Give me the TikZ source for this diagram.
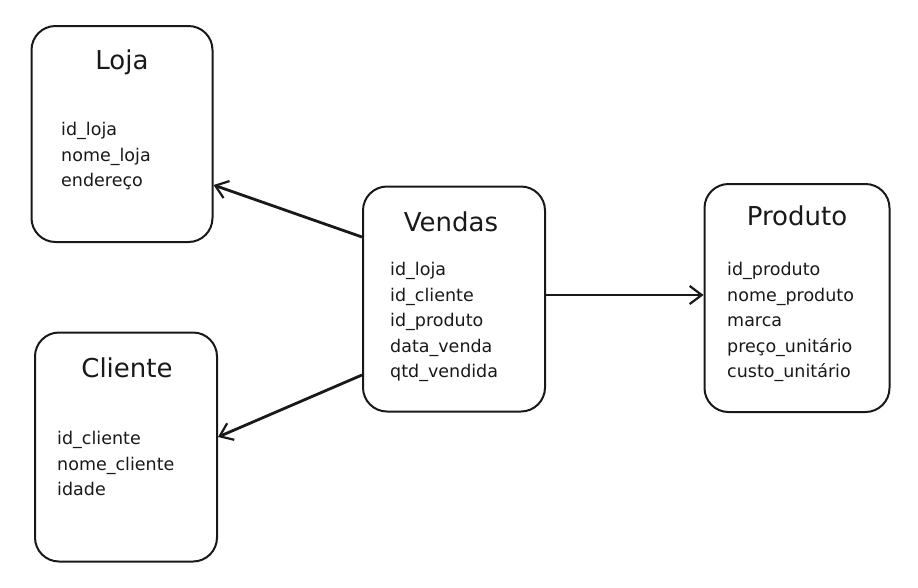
\documentclass[tikz,border=0pt]{standalone}
\usepackage{fontspec}
\setmainfont{DejaVu Sans}
\usetikzlibrary{arrows.meta}
\tikzset{
  x=1pt, y=-1pt,
  entity/.style={draw=black!90, line width=2pt, rounded corners=24pt, fill=white},
  title/.style={font=\fontsize{26}{28}\selectfont, text=black!90, inner sep=0pt},
  fields/.style={font=\fontsize{17.5}{25.6}\selectfont, text=black!90, align=left, anchor=north west, inner sep=0pt},
  rel/.style={line width=2.8pt, draw=black!90, -{Straight Barb[length=12pt,width=18pt,line width=2.2pt]}}
}
\begin{document}
\begin{tikzpicture}
\useasboundingbox (0,0) rectangle (918,587);
% boxes
\node[entity, minimum width=181pt, minimum height=216pt] (loja) at (122,134) {};
\node[entity, minimum width=182pt, minimum height=225pt] (vendas) at (454,299) {};
\node[entity, minimum width=185pt, minimum height=228pt] (produto) at (797,298) {};
\node[entity, minimum width=182pt, minimum height=229pt] (cliente) at (126,447) {};
% titles
\node[title] (tloja) at (122,62) {Loja};
\node[title] (tvendas) at (451,222) {Vendas};
\node[title] (tproduto) at (797,216) {Produto};
\node[title] (tcliente) at (127,368) {Cliente};
% fields
\node[fields] (floja) at (61,122) {id\_loja\\nome\_loja\\endereço};
\node[fields] (fvendas) at (390,262) {id\_loja\\id\_cliente\\id\_produto\\data\_venda\\qtd\_vendida};
\node[fields] (fproduto) at (727,262) {id\_produto\\nome\_produto\\marca\\preço\_unitário\\custo\_unitário};
\node[fields] (fcliente) at (57,431) {id\_cliente\\nome\_cliente\\idade};
% connectors
\coordinate (v1) at (vendas.west |- 0,237);
\coordinate (v2) at (vendas.west |- 0,375);
\coordinate (v3) at (vendas.east |- 0,295);
\draw[rel] (v1) -- (loja.east |- 0,185);
\draw[rel] (v2) -- (cliente.east |- 0,437);
\draw[rel] (v3) -- (produto.west |- 0,295);
\end{tikzpicture}
\end{document}
